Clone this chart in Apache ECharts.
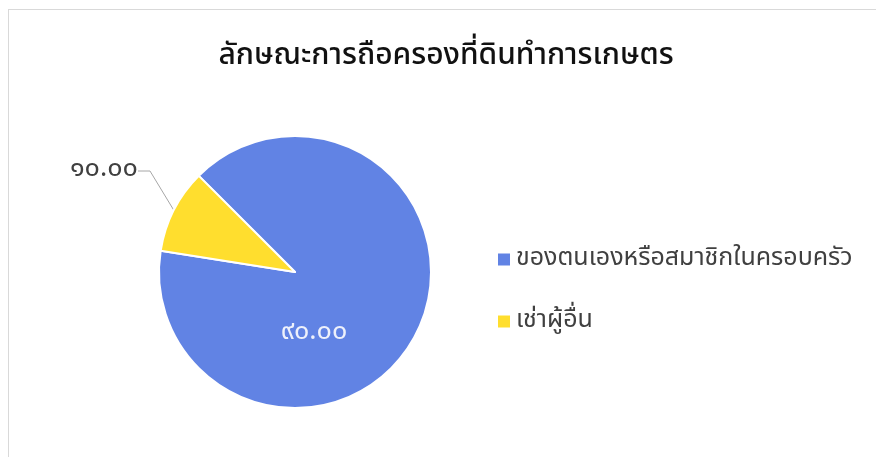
<!DOCTYPE html>
<html><head><meta charset="utf-8">
<script src="https://cdn.jsdelivr.net/npm/echarts@6/dist/echarts.min.js"></script>
<style>
html,body{margin:0;padding:0;background:#fff;width:876px;height:457px;overflow:hidden;}
#box{position:absolute;left:8px;top:9px;width:880px;height:460px;border-top:1px solid #d9d9d9;border-left:1px solid #d9d9d9;}
#c{position:absolute;left:0;top:0;width:874px;height:448px;}
</style></head>
<body><div id="box"><div id="c"></div></div>
<script>
const titleText = 'ลักษณะการถือครองที่ดินทำการเกษตร';
const categories = ['ของตนเองหรือสมาชิกในครอบครัว', 'เช่าผู้อื่น'];
const values = [90, 10];
const labelsText = ['๙๐.๐๐', '๑๐.๐๐'];
const colors = ['#6183E4', '#FFDE2E'];

const font = "'Noto Sans Thai','Leelawadee UI','Tahoma','Noto Sans','DejaVu Sans',sans-serif";
const chart = echarts.init(document.getElementById('c'));
chart.setOption({
  animation: false,
  title: {text: titleText, left: 'center', top: 28,
    textStyle: {fontFamily: font, fontSize: 30, fontWeight: 500, color: '#111'}},
  legend: {orient: 'vertical', left: 482, top: 232, itemWidth: 14, itemHeight: 14, itemGap: 37,
    icon: 'rect', data: categories,
    textStyle: {fontFamily: font, fontSize: 25, color: '#404040'}},
  series: [{
    type: 'pie', center: [286, 262], radius: [0, 136], startAngle: 135, clockwise: true,
    itemStyle: {borderColor: '#fff', borderWidth: 2},
    data: categories.map((n, i) => ({
      name: n, value: values[i], itemStyle: {color: colors[i]},
      label: i === 0
        ? {position: 'inside', color: '#eef1fb', fontSize: 27, fontFamily: font}
        : {position: 'outside', color: '#404040', fontSize: 27, fontFamily: font},
      labelLine: {show: i !== 0, lineStyle: {color: '#a6a6a6', width: 1}, length: 12, length2: 12}
    })),
    label: {formatter: p => labelsText[p.dataIndex]},
    labelLayout: p => p.dataIndex === 0 ? {x: 305, y: 324, align: 'center', verticalAlign: 'middle'}
                                         : {x: 129, y: 161, align: 'right', verticalAlign: 'middle'}
  }]
});
</script></body></html>
